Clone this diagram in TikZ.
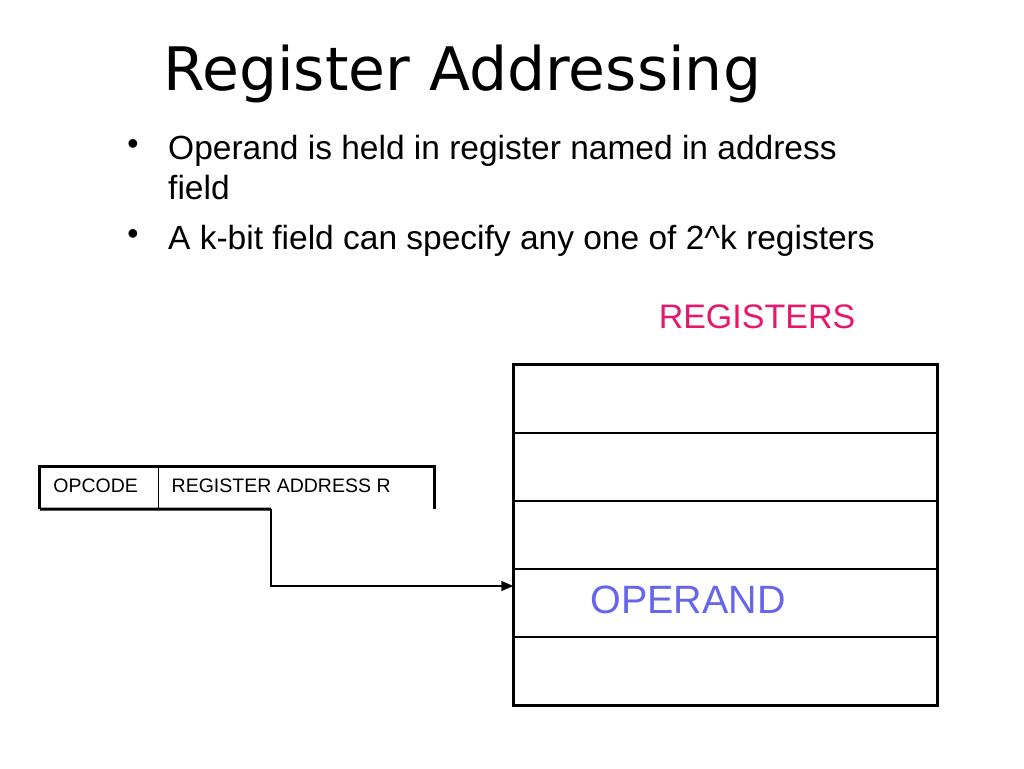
\documentclass[tikz,border=0pt]{standalone}
\usepackage{fontspec}
\setmainfont{Liberation Sans}
\newfontfamily\titlefont{DejaVu Sans}
\usetikzlibrary{positioning, arrows.meta}
\definecolor{regpink}{RGB}{232,22,108}
\definecolor{opblue}{RGB}{102,102,236}
\tikzset{
	regcell/.style={shape=rectangle, draw, line width=1.5pt, minimum width=423pt, minimum height=68pt, inner sep=0pt},
	fieldbox/.style={shape=rectangle, minimum height=42pt, inner sep=0pt},
	fieldtext/.style={anchor=west, font=\fontsize{19.5}{22}\selectfont},
	bullettext/.style={anchor=base west, inner sep=0pt, font=\fontsize{33.5}{38}\selectfont},
	bulletdot/.style={inner sep=0pt, font=\fontsize{32}{36}\selectfont}
}
\begin{document}
\begin{tikzpicture}[x=1pt, y=-1pt]
	\useasboundingbox (0, 0) rectangle (1024, 768);
	% Title and bullets:
	\node[anchor=base west, inner sep=0pt, font=\titlefont\fontsize{60}{66}\selectfont] (title) at (163, 90) {Register Addressing};
	\node[bulletdot] (dot1) at (133, 147) {•};
	\node[bullettext] (line1) at (168, 159) {Operand is held in register named in address};
	\node[bullettext] (line2) at (168, 199) {field};
	\node[bulletdot] (dot2) at (133, 237) {•};
	\node[bullettext] (line3) at (168, 249) {A k-bit field can specify any one of 2\^{}k registers};
	% Register file:
	\foreach \i in {0,...,4}
		\node[regcell] (reg\i) at (725.5, 399 + 68*\i) {};
	\draw[line width=3pt] (reg0.north west) rectangle (reg4.south east);
	\node[text=regpink, font=\fontsize{34}{40}\selectfont] (regs) at (757, 317) {REGISTERS};
	\node[text=opblue, font=\fontsize{39.5}{44}\selectfont] (operand) at (688, 600) {OPERAND};
	% Instruction format:
	\node[fieldbox, minimum width=118pt] (opcode) at (99, 488) {};
	\node[fieldbox, minimum width=276pt, right=0pt of opcode] (raddr) {};
	\node[fieldtext] at ([xshift=10pt, yshift=2pt]opcode.west) {OPCODE};
	\node[fieldtext] at ([xshift=10pt, yshift=2pt]raddr.west) {REGISTER ADDRESS R};
	\coordinate (tap) at (271, 509);
	\draw[line width=3pt] (opcode.south west) |- (raddr.north east) -- (raddr.south east);
	\draw[line width=3pt] (opcode.south west) -- (tap);
	\draw[line width=1pt] (opcode.north east) -- (opcode.south east);
	\draw[line width=1.5pt, -{Triangle[length=12pt, width=10pt]}] (tap) |- ([yshift=17pt]reg3.west);
\end{tikzpicture}
\end{document}
